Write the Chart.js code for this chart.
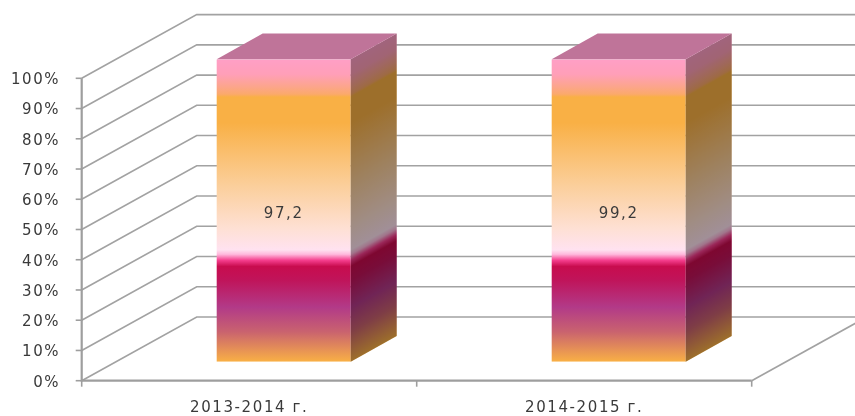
<!DOCTYPE html>
<html><head><meta charset="utf-8">
<style>html,body{margin:0;padding:0;background:#fff}canvas{display:block}</style>
<script src="https://cdn.jsdelivr.net/npm/chart.js@4/dist/chart.umd.min.js"></script>
</head><body>
<canvas id="c" width="855" height="416" style="width:855px;height:416px"></canvas>
<script>
const categories = ["2013-2014 г.", "2014-2015 г."];
const shareValues = [100, 100];
const labelValues = ["97,2", "99,2"];
const valueTicks = [0,10,20,30,40,50,60,70,80,90,100];

const wallColor = "#a2a2a2", axisColor = "#9e9e9e", textColor = "#3a3a3a";
const frontOff = {x:-34.5, y:19}, backOff = {x:80.5, y:-44.7};
const barDepth = {x:46, y:-25.7};
const stops = [[0,"#ff9fc6"],[0.05,"#ff9fb8"],[0.09,"#fca58c"],[0.115,"#fba96c"],[0.125,"#f9b045"],[0.21,"#f9b045"],
 [0.42,"#fbcf9c"],[0.56,"#fee0d4"],[0.63,"#ffe2f0"],[0.645,"#ffb8dc"],[0.665,"#f43d8c"],[0.685,"#c80c4e"],
 [0.73,"#c0145a"],[0.82,"#b23a88"],[0.9,"#c9626f"],[1,"#f9b045"]];
function grad(ctx,top,bottom){
  const g = ctx.createLinearGradient(0,top,0,bottom);
  stops.forEach(s=>g.addColorStop(s[0],s[1]));
  return g;
}
const box3d = {
  id:"box3d",
  beforeDraw(chart){ chart.ctx.letterSpacing = "1.6px"; },
  beforeDatasetsDraw(chart){
    const {ctx,chartArea:a,scales:{x,y}} = chart;
    ctx.save();
    ctx.lineWidth = 1.6; ctx.strokeStyle = wallColor;
    const fl = a.left+frontOff.x, bl = a.left+backOff.x;
    valueTicks.forEach(v=>{
      const p = y.getPixelForValue(v);
      ctx.beginPath();
      ctx.moveTo(fl,p+frontOff.y);
      ctx.lineTo(bl,p+backOff.y);
      ctx.lineTo(a.right+backOff.x,p+backOff.y);
      ctx.stroke();
    });
    const zero = y.getPixelForValue(0), top = y.getPixelForValue(100);
    const fr = a.right+frontOff.x;
    ctx.beginPath();
    ctx.moveTo(fr,zero+frontOff.y);
    ctx.lineTo(a.right+backOff.x,zero+backOff.y);
    ctx.stroke();
    ctx.lineWidth = 2.2; ctx.strokeStyle = axisColor;
    ctx.beginPath();
    ctx.moveTo(fl,top+frontOff.y); ctx.lineTo(fl,zero+frontOff.y); ctx.lineTo(fr,zero+frontOff.y);
    ctx.stroke();
    ctx.lineWidth = 1.6;
    valueTicks.forEach(v=>{
      const p = y.getPixelForValue(v)+frontOff.y;
      ctx.beginPath(); ctx.moveTo(fl-6,p); ctx.lineTo(fl,p); ctx.stroke();
    });
    const catW = (a.right-a.left)/categories.length;
    for(let i=0;i<=categories.length;i++){
      const px = fl+i*catW;
      ctx.beginPath(); ctx.moveTo(px,zero+frontOff.y); ctx.lineTo(px,zero+frontOff.y+6); ctx.stroke();
    }
    ctx.restore();
  },
  afterDatasetsDraw(chart){
    const {ctx,chartArea:a} = chart;
    ctx.save();
    chart.getDatasetMeta(0).data.forEach((bar,i)=>{
      const p = bar.getProps(["x","y","base","width"],true);
      const l = p.x-p.width/2, r = p.x+p.width/2, t = p.y, b = p.base;
      const k = barDepth.y/barDepth.x;
      ctx.save();
      ctx.transform(1,k,0,1,0,-r*k);
      ctx.fillStyle = grad(ctx,a.top,a.bottom);
      ctx.fillRect(r,t,barDepth.x,b-t);
      ctx.fillStyle = "rgba(0,0,0,0.37)";
      ctx.fillRect(r,t,barDepth.x,b-t);
      ctx.restore();
      ctx.fillStyle = "#bf7499";
      ctx.beginPath();
      ctx.moveTo(l,t); ctx.lineTo(r,t); ctx.lineTo(r+barDepth.x,t+barDepth.y); ctx.lineTo(l+barDepth.x,t+barDepth.y);
      ctx.closePath(); ctx.fill();
      ctx.fillStyle = textColor;
      ctx.font = "15px 'DejaVu Sans'";
      ctx.textAlign = "center"; ctx.textBaseline = "middle";
      ctx.fillText(labelValues[i],p.x,(t+b)/2+3.5);
    });
    ctx.restore();
  }
};
new Chart(document.getElementById("c"),{
  type:"bar",
  data:{labels:categories,datasets:[{
    data:shareValues,
    barPercentage:0.4,categoryPercentage:1,borderWidth:0,
    backgroundColor:(c)=>c.chart.chartArea?grad(c.chart.ctx,c.chart.chartArea.top,c.chart.chartArea.bottom):"#f9b045"
  }]},
  options:{
    responsive:false,animation:false,
    layout:{padding:{top:59.3,right:68.8,left:0,bottom:0},autoPadding:false},
    plugins:{legend:{display:false},tooltip:{enabled:false}},
    scales:{
      x:{grid:{display:false,drawTicks:false},border:{display:false},
        ticks:{color:textColor,font:{family:"DejaVu Sans",size:15},labelOffset:frontOff.x,padding:37,maxRotation:0},
        afterFit(s){s.height=54.3;s.paddingLeft=s.paddingRight=0;}},
      y:{min:0,max:100,grid:{display:false,drawTicks:false},border:{display:false},
        ticks:{stepSize:10,color:textColor,font:{family:"DejaVu Sans",size:15},labelOffset:frontOff.y+2,padding:56,callback:v=>v+"%"},
        afterFit(s){s.width=116.2;s.paddingTop=s.paddingBottom=0;}}
    }
  },
  plugins:[box3d]
});
</script>
</body></html>
